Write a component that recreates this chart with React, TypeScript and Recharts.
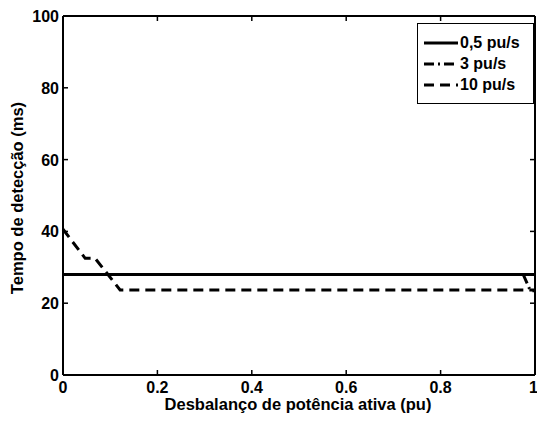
import { Line, LineChart, XAxis, YAxis } from "recharts";

const xTicks = [0, 0.2, 0.4, 0.6, 0.8, 1];
const yTicks = [0, 20, 40, 60, 80, 100];

const slowX = [0, 1];
const slowY = [28, 28];

const midX = [0, 0.975, 0.99, 1];
const midY = [28, 28, 23.5, 23.5];

const fastX = [0, 0.047, 0.068, 0.121, 1];
const fastY = [40.6, 32.5, 32.5, 23.7, 23.7];

const seriesNames = ["0,5 pu/s", "3 pu/s", "10 pu/s"];
const dashes = ["", "10 4 2 4", "10 6"];

const toPoints = (xs: number[], ys: number[]) => xs.map((x, i) => ({ x, y: ys[i] }));

const font = "'Liberation Sans', Arial, sans-serif";

function fmtX(v: number) {
  return v === 0 || v === 1 ? String(v) : v.toFixed(1);
}

// custom ticks: marks point inward, the way the source plot draws them
function BottomTick({ x, y, payload }: any) {
  // last label sits on the right edge of the page; keep it inside
  const last = payload.value === 1;
  return (
    <g>
      <line x1={x} y1={y} x2={x} y2={y - 5} stroke="#000" strokeWidth={1.5} />
      <text
        x={last ? x + 3 : x}
        y={y + 18}
        textAnchor={last ? "end" : "middle"}
        fontSize={16}
        fontWeight="bold"
        fontFamily={font}
        fill="#000"
      >
        {fmtX(payload.value)}
      </text>
    </g>
  );
}

function TopTick({ x, y }: any) {
  return (
    <g>
      <line x1={x} y1={y} x2={x} y2={y + 5} stroke="#000" strokeWidth={1.5} />
    </g>
  );
}

function LeftTick({ x, y, payload }: any) {
  return (
    <g>
      <line x1={x} y1={y} x2={x + 5} y2={y} stroke="#000" strokeWidth={1.5} />
      <text x={x - 4} y={y + 6} textAnchor="end" fontSize={16} fontWeight="bold" fontFamily={font} fill="#000">
        {payload.value}
      </text>
    </g>
  );
}

function RightTick({ x, y }: any) {
  return (
    <g>
      <line x1={x} y1={y} x2={x - 5} y2={y} stroke="#000" strokeWidth={1.5} />
    </g>
  );
}

function LegendBox() {
  return (
    <div
      style={{
        position: "absolute",
        left: 417,
        top: 23,
        width: 109,
        height: 71,
        border: "1.5px solid #000",
        background: "#fff",
        padding: "8px 0 0 6px",
        boxSizing: "content-box",
        fontFamily: font,
        fontWeight: "bold",
        fontSize: 16,
        lineHeight: "21px",
      }}
    >
      {seriesNames.map((name, i) => (
        <div key={name} style={{ display: "flex", alignItems: "center", height: 21 }}>
          <svg width={34} height={10} style={{ marginRight: 2 }}>
            <line x1={0} y1={5} x2={34} y2={5} stroke="#000" strokeWidth={3} strokeDasharray={dashes[i]} />
          </svg>
          {name}
        </div>
      ))}
    </div>
  );
}

export default function App() {
  return (
    <div style={{ position: "absolute", left: 0, top: 0, width: 537, height: 421 }}>
      <LineChart width={537} height={421} margin={{ top: 15, right: 1, bottom: 0, left: 0 }}>
        <XAxis
          xAxisId="b"
          dataKey="x"
          type="number"
          domain={[0, 1]}
          ticks={xTicks}
          interval={0}
          height={46}
          tickSize={0}
          tickMargin={0}
          tickLine={false}
          tick={BottomTick}
          axisLine={{ stroke: "#000", strokeWidth: 2 }}
        />
        <XAxis
          xAxisId="t"
          orientation="top"
          dataKey="x"
          type="number"
          domain={[0, 1]}
          ticks={xTicks}
          interval={0}
          height={1}
          tickSize={0}
          tickMargin={0}
          tickLine={false}
          tick={TopTick}
          axisLine={{ stroke: "#000", strokeWidth: 2 }}
        />
        <YAxis
          yAxisId="l"
          type="number"
          domain={[0, 100]}
          ticks={yTicks}
          interval={0}
          width={63}
          tickSize={0}
          tickMargin={0}
          tickLine={false}
          tick={LeftTick}
          axisLine={{ stroke: "#000", strokeWidth: 2 }}
        />
        <YAxis
          yAxisId="r"
          orientation="right"
          type="number"
          domain={[0, 100]}
          ticks={yTicks}
          interval={0}
          width={1}
          tickSize={0}
          tickMargin={0}
          tickLine={false}
          tick={RightTick}
          axisLine={{ stroke: "#000", strokeWidth: 2 }}
        />
        <Line
          xAxisId="b"
          yAxisId="l"
          data={toPoints(slowX, slowY)}
          dataKey="y"
          stroke="#000"
          strokeWidth={3}
          dot={false}
          isAnimationActive={false}
        />
        <Line
          xAxisId="b"
          yAxisId="l"
          data={toPoints(midX, midY)}
          dataKey="y"
          stroke="#000"
          strokeWidth={3}
          strokeDasharray={dashes[1]}
          dot={false}
          isAnimationActive={false}
        />
        <Line
          xAxisId="b"
          yAxisId="l"
          data={toPoints(fastX, fastY)}
          dataKey="y"
          stroke="#000"
          strokeWidth={3}
          strokeDasharray={dashes[2]}
          dot={false}
          isAnimationActive={false}
        />
        {/* the top/right axes have no series of their own; a flat line on them keeps them active */}
        <Line
          xAxisId="t"
          yAxisId="r"
          data={toPoints(slowX, slowY)}
          dataKey="y"
          stroke="#000"
          strokeWidth={3}
          dot={false}
          isAnimationActive={false}
        />
      </LineChart>
      <LegendBox />
      <div
        style={{
          position: "absolute",
          left: 63,
          width: 470,
          top: 395,
          textAlign: "center",
          fontFamily: font,
          fontWeight: "bold",
          fontSize: 16.5,
          lineHeight: "19px",
        }}
      >
        Desbalanço de potência ativa (pu)
      </div>
      <div
        style={{
          position: "absolute",
          left: 17,
          top: 198,
          transform: "translate(-50%, -50%) rotate(-90deg)",
          whiteSpace: "nowrap",
          fontFamily: font,
          fontWeight: "bold",
          fontSize: 16.5,
          lineHeight: "19px",
        }}
      >
        Tempo de detecção (ms)
      </div>
    </div>
  );
}
